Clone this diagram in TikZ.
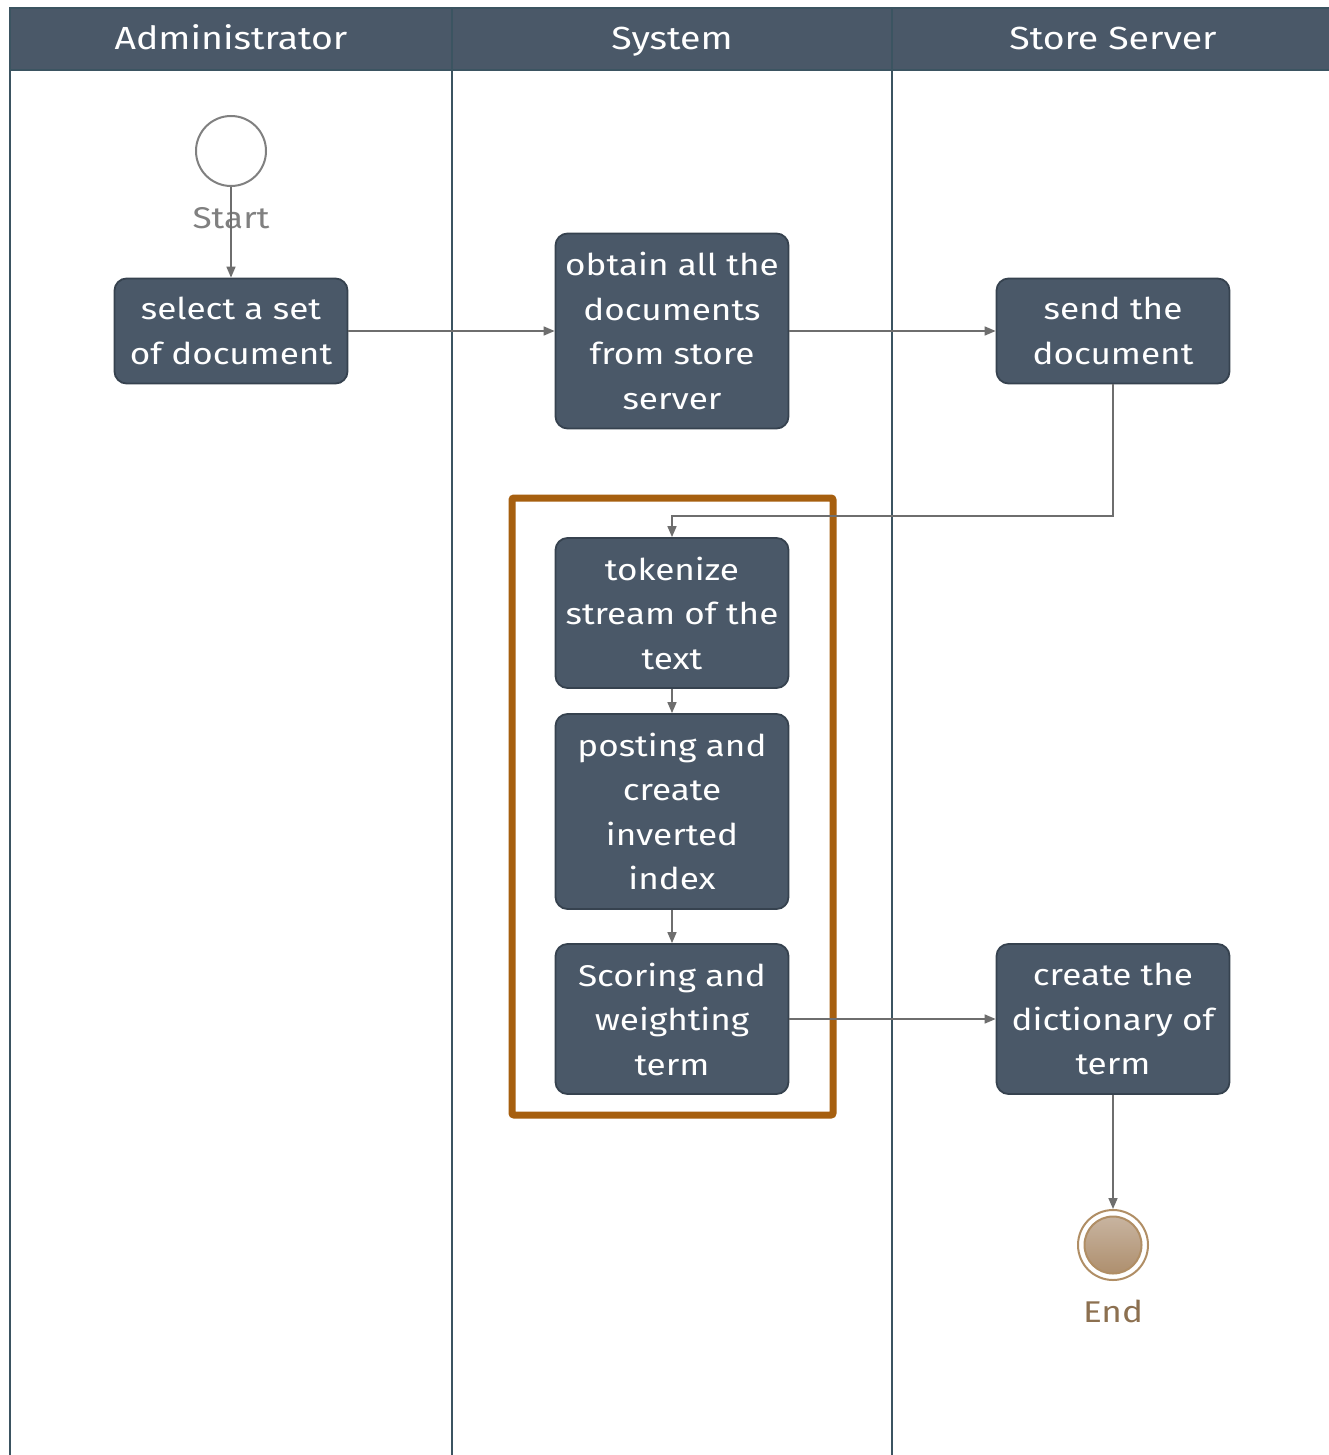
\documentclass[tikz,border=0pt]{standalone}
\usepackage{fontspec}
\setmainfont{Fira Sans}[FakeStretch=1.17]
\usetikzlibrary{arrows.meta}
\definecolor{boxfill}{HTML}{4A5868}
\definecolor{boxline}{HTML}{36424F}
\definecolor{lane}{HTML}{3B5461}
\definecolor{conn}{HTML}{6E6E6E}
\definecolor{frame}{HTML}{A65F0F}
\definecolor{endline}{HTML}{B08E65}
\definecolor{endtop}{HTML}{C8B4A0}
\definecolor{endbot}{HTML}{AE8F6E}
\definecolor{endtext}{HTML}{8C7050}
\begin{document}
\begin{tikzpicture}[x=1pt,y=-1pt,
  task/.style={draw=boxline,line width=1.8pt,fill=boxfill,rounded corners=12pt,
    text=white,align=center,minimum width=233pt,inner sep=0pt,
    font=\fontsize{30}{44.5}\selectfont},
  flow/.style={draw=conn,line width=1.6pt,-{Triangle[length=11pt,width=9pt]}},
  lanehead/.style={text=white,anchor=base,font=\fontsize{32}{40}\selectfont}]
\useasboundingbox (0,0) rectangle (1329,1455);
\fill[white] (0,0) rectangle (1329,1455);
% swimlane header and dividers
\fill[boxfill] (10,8) rectangle (1340,70);
\draw[lane,line width=2.5pt] (1340,8) -- (10,8) -- (10,1470);
\draw[lane,line width=2.5pt] (10,70) -- (1340,70);
\draw[lane,line width=2.5pt] (452,8) -- (452,1470);
\draw[lane,line width=2.5pt] (892,8) -- (892,1470);
\node[lanehead] (h1) at (231,50) {Administrator};
\node[lanehead] (h2) at (672,50) {System};
\node[lanehead] (h3) at (1113,50) {Store Server};
% grouping frame
\draw[frame,line width=7pt,rounded corners=2pt] (512,498) rectangle (833,1115);
% start and end events
\node[circle,draw=gray,line width=2pt,minimum size=70pt,inner sep=0pt] (start) at (231,151) {};
\node[text=gray,anchor=base,font=\fontsize{30}{36}\selectfont] (startlbl) at (231,229) {Start};
% tasks
\node[task,minimum height=105pt] (t1) at (231,331) {select a set\\of document};
\node[task,minimum height=195pt] (t2) at (672,331) {obtain all the\\documents\\from store\\server};
\node[task,minimum height=105pt] (t3) at (1113,331) {send the\\document};
\node[task,minimum height=150pt] (t4) at (672,613) {tokenize\\stream of the\\text};
\node[task,minimum height=195pt] (t5) at (672,811.5) {posting and\\create\\inverted\\index};
\node[task,minimum height=150pt] (t6) at (672,1019) {Scoring and\\weighting\\term};
\node[task,minimum height=150pt] (t7) at (1113,1019) {create the\\dictionary of\\term};
\node[circle,draw=endline,line width=2pt,fill=white,minimum size=70pt,inner sep=0pt] (end) at (1113,1245) {};
\shade[top color=endtop,bottom color=endbot,draw=endline,line width=2pt] (end.center) circle (28.5pt);
\node[text=endtext,anchor=base,font=\fontsize{30}{36}\selectfont] (endlbl) at (1113,1322) {End};
% connectors
\draw[flow] (start.south) -- (t1.north);
\draw[flow] (t1.east) -- (t2.west);
\draw[flow] (t2.east) -- (t3.west);
\coordinate (bend) at (1113,516);
\draw[flow] (t3.south) -- (bend) -| (t4.north);
\draw[flow] (t4.south) -- (t5.north);
\draw[flow] (t5.south) -- (t6.north);
\draw[flow] (t6.east) -- (t7.west);
\draw[flow] (t7.south) -- (end.north);
\end{tikzpicture}
\end{document}
